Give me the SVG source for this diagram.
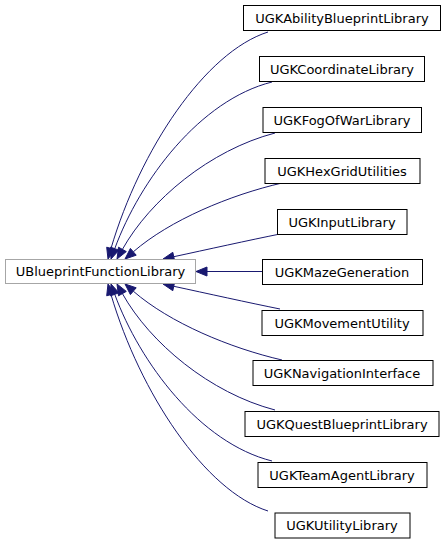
<svg xmlns="http://www.w3.org/2000/svg" width="447" height="544" viewBox="0 0 447 544">
<style>
text{font-family:"DejaVu Sans",sans-serif;font-size:13px;text-anchor:middle;fill:#000}
.n rect{fill:#fff;stroke:#000;stroke-width:1}
.base rect{fill:#fff;stroke:#a6a6a6;stroke-width:1}
.e path{fill:none;stroke:#191970;stroke-width:1}
.e polygon{fill:#191970;stroke:#191970;stroke-width:1}
</style>
<rect width="447" height="544" fill="#fff"/>
<g id="edges" class="e">
<path d="M268,32 C205,52 140,150 111,248.4"/><polygon points="115.3,249.6 108,259 106.7,247.2"/>
<path d="M272,82 C200,100 140,180 114.75,248.66"/><polygon points="118.98,250.19 111,259 110.52,247.13"/>
<path d="M275,133 C210,150 150,200 122.4,249.4"/><polygon points="126.3,251.6 117,259 118.5,247.2"/>
<path d="M282,183 C230,195 170,220 133.3,251.8"/><polygon points="136.2,255.2 125,259 130.4,248.4"/>
<path d="M280,234 C250,240 205,250 173.8,256.7"/><polygon points="174.7,261.1 163,259 172.8,252.3"/>
<path d="M263,271.5 L207,271.5"/><polygon points="207,267 196,271.5 207,276"/>
<path d="M280,309 C250,303 205,293 173.8,286.3"/><polygon points="172.8,290.7 163,284 174.7,281.9"/>
<path d="M282,360 C230,348 170,323 133.3,291.2"/><polygon points="136.2,287.8 125,284 130.4,294.6"/>
<path d="M275,410 C210,393 150,343 122.4,293.6"/><polygon points="126.3,291.4 117,284 118.5,295.8"/>
<path d="M272,461 C200,443 140,363 114.75,294.34"/><polygon points="118.98,292.81 111,284 110.52,295.87"/>
<path d="M268,511 C205,491 140,393 111,294.6"/><polygon points="115.3,293.4 108,284 106.7,295.8"/>
</g>
<g id="UBlueprintFunctionLibrary" class="base"><rect x="5.5" y="259.5" width="190" height="24"/><text x="100.5" y="276">UBlueprintFunctionLibrary</text></g>
<g id="UGKAbilityBlueprintLibrary" class="n"><rect x="243.5" y="5.5" width="197" height="25"/><text x="342" y="22.5">UGKAbilityBlueprintLibrary</text></g>
<g id="UGKCoordinateLibrary" class="n"><rect x="259.5" y="56.5" width="165" height="25"/><text x="342" y="73.5">UGKCoordinateLibrary</text></g>
<g id="UGKFogOfWarLibrary" class="n"><rect x="263" y="107.5" width="158.5" height="25"/><text x="342" y="124.5">UGKFogOfWarLibrary</text></g>
<g id="UGKHexGridUtilities" class="n"><rect x="265" y="158.5" width="155" height="25"/><text x="342" y="175.5">UGKHexGridUtilities</text></g>
<g id="UGKInputLibrary" class="n"><rect x="277.5" y="209.5" width="129.5" height="25"/><text x="342" y="226.5">UGKInputLibrary</text></g>
<g id="UGKMazeGeneration" class="n"><rect x="262.5" y="259.5" width="160" height="25"/><text x="342" y="276.5">UGKMazeGeneration</text></g>
<g id="UGKMovementUtility" class="n"><rect x="262" y="310.5" width="161" height="25"/><text x="342" y="327.5">UGKMovementUtility</text></g>
<g id="UGKNavigationInterface" class="n"><rect x="253" y="360.5" width="180" height="25"/><text x="342" y="377.5">UGKNavigationInterface</text></g>
<g id="UGKQuestBlueprintLibrary" class="n"><rect x="245" y="411.5" width="194" height="25"/><text x="342" y="428.5">UGKQuestBlueprintLibrary</text></g>
<g id="UGKTeamAgentLibrary" class="n"><rect x="258" y="462.5" width="169" height="25"/><text x="342" y="479.5">UGKTeamAgentLibrary</text></g>
<g id="UGKUtilityLibrary" class="n"><rect x="275" y="513" width="135" height="25"/><text x="342" y="530">UGKUtilityLibrary</text></g>
</svg>
